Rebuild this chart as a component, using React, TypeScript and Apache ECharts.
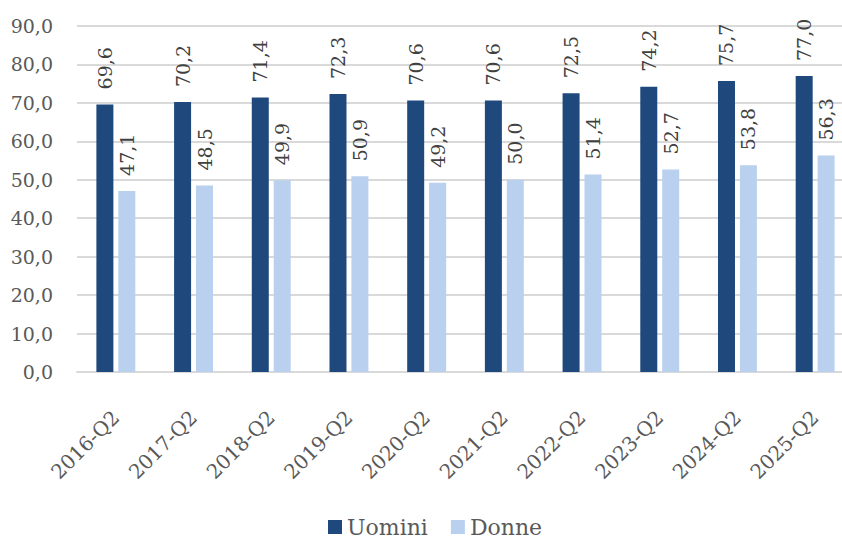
import React, { useEffect, useRef } from "react";
import * as echarts from "echarts";

const categories = ["2016-Q2", "2017-Q2", "2018-Q2", "2019-Q2", "2020-Q2", "2021-Q2", "2022-Q2", "2023-Q2", "2024-Q2", "2025-Q2"];
const uomini = [69.6, 70.2, 71.4, 72.3, 70.6, 70.6, 72.5, 74.2, 75.7, 77.0];
const donne = [47.1, 48.5, 49.9, 50.9, 49.2, 50.0, 51.4, 52.7, 53.8, 56.3];
const seriesNames = ["Uomini", "Donne"];

const FONT = "DejaVu Serif";
const FS = 19;
const TEXT = "#595959";
const fmt = (v: number) => v.toFixed(1).replace(".", ",");

export default function App() {
  const ref = useRef<HTMLDivElement>(null);
  useEffect(() => {
    if (!ref.current) return;
    const chart = echarts.init(ref.current, undefined, { renderer: "svg" });
    const label = {
      show: true,
      position: "top" as const,
      rotate: 90,
      align: "left" as const,
      verticalAlign: "middle" as const,
      distance: 15,
      fontFamily: FONT,
      fontSize: FS,
      color: "#404040",
      formatter: (p: any) => fmt(p.value),
    };
    chart.setOption({
      animation: false,
      backgroundColor: "#ffffff",
      grid: {
        left: 77,
        right: -12,
        top: 26,
        bottom: 169,
        containLabel: false,
        outerBoundsMode: "none",
      },
      legend: {
        left: 323,
        top: 511,
        itemWidth: 14,
        itemHeight: 14,
        itemGap: 23,
        icon: "rect",
        textStyle: { fontFamily: FONT, fontSize: 22, color: TEXT },
        data: seriesNames,
      },
      xAxis: {
        type: "category",
        data: categories,
        axisLine: { show: true, lineStyle: { color: "#d9d9d9", width: 2 } },
        axisTick: { show: false },
        axisLabel: {
          rotate: 45,
          margin: 42,
          interval: 0,
          fontFamily: FONT,
          fontSize: 20,
          color: TEXT,
        },
      },
      yAxis: {
        type: "value",
        min: 0,
        max: 90,
        interval: 10,
        axisLine: { show: false },
        axisTick: { show: false },
        splitLine: { lineStyle: { color: "#d9d9d9", width: 2 } },
        axisLabel: {
          margin: 24,
          fontFamily: FONT,
          fontSize: FS,
          color: TEXT,
          formatter: (v: number) => fmt(v),
        },
      },
      series: [
        {
          name: seriesNames[0],
          type: "bar",
          data: uomini,
          barWidth: 17,
          barGap: "29%",
          itemStyle: { color: "#1f497d" },
          label,
        },
        {
          name: seriesNames[1],
          type: "bar",
          data: donne,
          barWidth: 17,
          itemStyle: { color: "#b9d0ee" },
          label,
        },
      ],
    });
    return () => chart.dispose();
  }, []);
  return (
    <div
      ref={ref}
      style={{ position: "fixed", left: 0, top: 0, width: 842, height: 541 }}
    />
  );
}
